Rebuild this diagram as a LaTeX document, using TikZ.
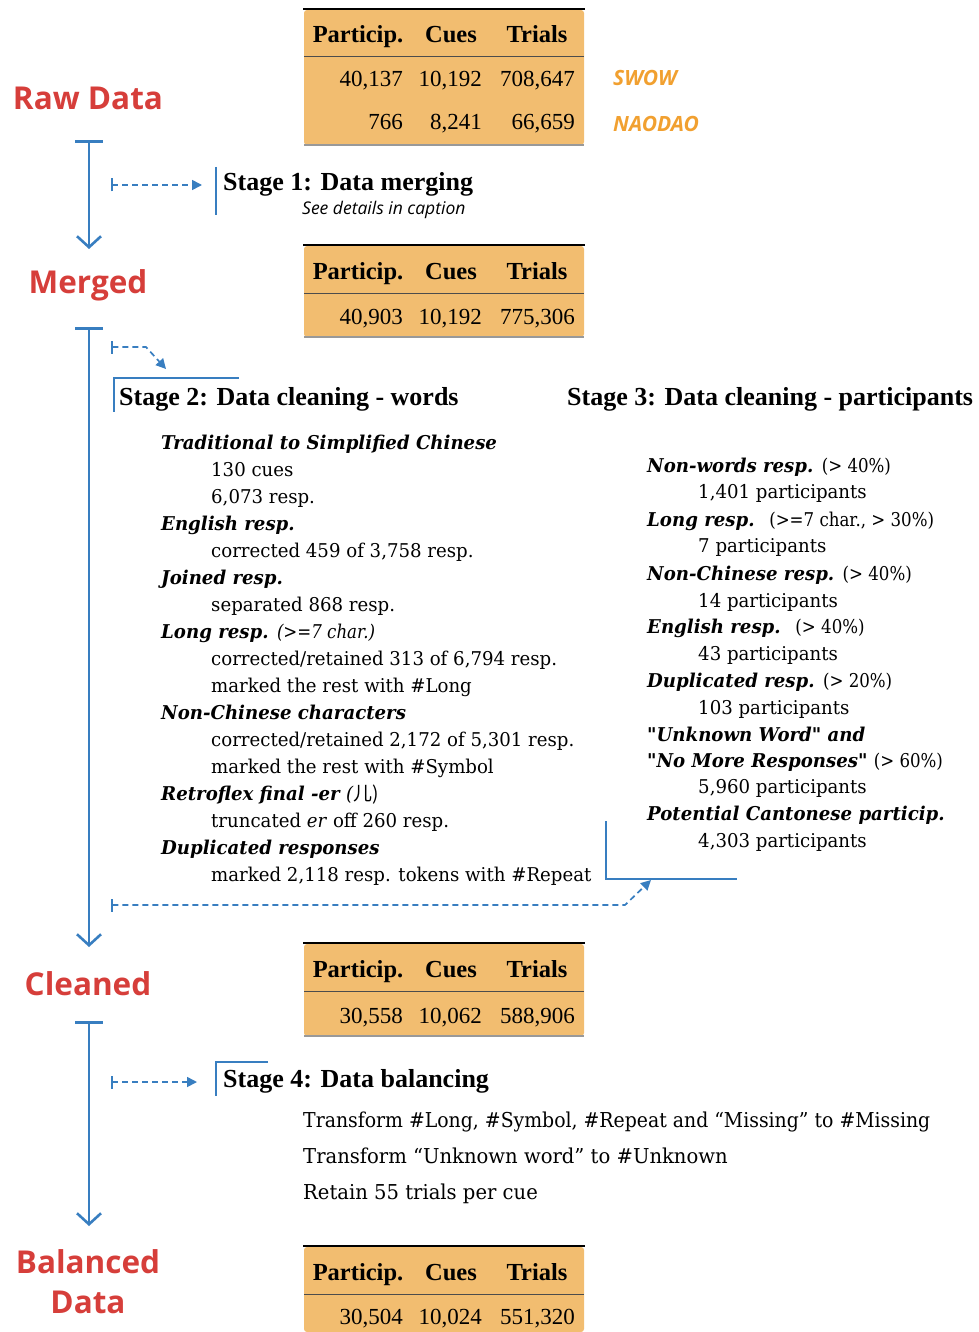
\documentclass[tikz,border=0pt]{standalone}
\usepackage{fontspec}
\setmainfont{DejaVu Serif}[FakeStretch=0.955]
\newfontfamily\tabfont{Liberation Serif}
\newfontfamily\labfont{Open Sans}
\newfontfamily\cjk{Noto Sans CJK SC}
\usetikzlibrary{arrows.meta}
\definecolor{redlab}{RGB}{214,62,58}
\definecolor{flowblue}{RGB}{56,126,192}
\definecolor{tabfill}{RGB}{242,189,112}
\definecolor{srcorange}{RGB}{241,160,48}
\newcommand\pnote[1]{{\mdseries\addfontfeature{FakeStretch=0.875}#1}}
\newcommand\sq{{\addfontfeature{Ligatures=TeXOff}"}}
\tikzset{
  txt/.style={inner sep=0pt, anchor=base west},
  body/.style={txt, font=\fontsize{19}{23}\selectfont},
  head/.style={txt, font=\fontsize{19}{23}\selectfont\bfseries\itshape},
  bal/.style={txt, font=\fontsize{20.5}{24}\selectfont},
  stagetitle/.style={txt, font=\tabfont\bfseries\fontsize{26}{30}\selectfont},
  th/.style={inner sep=0pt, anchor=base, font=\tabfont\bfseries\fontsize{24.5}{28}\selectfont},
  td/.style={inner sep=0pt, anchor=base east, font=\tabfont\fontsize{23}{27}\selectfont},
  lab/.style={inner sep=0pt, anchor=base, text=redlab, font=\labfont\bfseries\fontsize{31.5}{38}\selectfont},
  src/.style={txt, text=srcorange, font=\labfont\bfseries\itshape\fontsize{21}{25}\selectfont},
  flow/.style={draw=flowblue, line width=2.6pt, {Bar[width=28pt,line width=2.6pt]}-{Straight Barb[length=11pt,width=24pt,line width=2.6pt]}},
  dflow/.style={draw=flowblue, line width=1.7pt, dash pattern=on 6pt off 4pt, {Bar[width=13pt,line width=1.7pt]}-{Triangle[length=10pt,width=10pt]}},
  corner/.style={draw=flowblue, line width=2pt},
}
\newcommand\mktab[3]{%
  \fill[tabfill, rounded corners=3pt] (304,#2+1) rectangle (584,#3);
  \draw[line width=2.2pt] (303,#2) -- (585,#2);
  \draw[line width=1pt, black!70] (304,#2+48) -- (584,#2+48);
  \node[th] (#1h1) at (358,#2+34) {Particip.};
  \node[th] (#1h2) at (451,#2+34) {Cues};
  \node[th] (#1h3) at (537,#2+34) {Trials};
}
\begin{document}
\begin{tikzpicture}[x=1pt,y=-1pt]
\useasboundingbox (0,0) rectangle (978,1332);

% ---------- tables ----------
\mktab{ta}{9}{145}
\draw[line width=1.5pt, black!40] (304,145) -- (584,145);
\node[td] (ta11) at (403,87) {40,137};
\node[td] (ta12) at (482,87) {10,192};
\node[td] (ta13) at (575,87) {708,647};
\node[td] (ta21) at (403,130) {766};
\node[td] (ta22) at (482,130) {8,241};
\node[td] (ta23) at (575,130) {66,659};
\node[src] (swow) at (613,86) {SWOW};
\node[src] (naodao) at (613,132) {NAODAO};

\mktab{tb}{245}{337}
\draw[line width=1.5pt, black!40] (304,337) -- (584,337);
\node[td] (tb11) at (403,324) {40,903};
\node[td] (tb12) at (482,324) {10,192};
\node[td] (tb13) at (575,324) {775,306};

\mktab{tc}{943}{1036}
\draw[line width=1.5pt, black!40] (304,1036) -- (584,1036);
\node[td] (tc11) at (403,1023) {30,558};
\node[td] (tc12) at (482,1023) {10,062};
\node[td] (tc13) at (575,1023) {588,906};

\mktab{td}{1246}{1332}
\node[td] (td11) at (403,1324) {30,504};
\node[td] (td12) at (482,1324) {10,024};
\node[td] (td13) at (575,1324) {551,320};

% ---------- red labels ----------
\node[lab] (raw) at (88,110) {Raw Data};
\node[lab] (merged) at (88,293) {Merged};
\node[lab] (cleaned) at (88,995) {Cleaned};
\node[lab] (bal1) at (88,1273) {Balanced};
\node[lab] (bal2) at (88,1313) {Data};

% ---------- main flow ----------
\coordinate (f1s) at (89,140); \coordinate (f1e) at (89,249);
\coordinate (f2s) at (89,327); \coordinate (f2e) at (89,947);
\coordinate (f3s) at (89,1021); \coordinate (f3e) at (89,1226);
\draw[flow] (f1s) -- (f1e);
\draw[flow] (f2s) -- (f2e);
\draw[flow] (f3s) -- (f3e);

% ---------- stage 1 ----------
\coordinate (d1s) at (111,185); \coordinate (d1e) at (202,185);
\draw[dflow] (d1s) -- (d1e);
\coordinate (c1a) at (216,167); \coordinate (c1b) at (216,215);
\draw[corner] (c1a) -- (c1b);
\node[stagetitle] (st1) at (223,191) {Stage 1: Data merging};
\node[txt, font=\labfont\itshape\fontsize{17.5}{21}\selectfont] (st1sub) at (302,215) {See details in caption};

% ---------- stage 2 ----------
\coordinate (d2s) at (111,347); \coordinate (d2m) at (146,347); \coordinate (d2e) at (166,369);
\draw[dflow] (d2s) -- (d2m) -- (d2e);
\coordinate (c2a) at (239,378); \coordinate (c2b) at (114,378); \coordinate (c2c) at (114,412);
\draw[corner] (c2a) -- (c2b) -- (c2c);
\node[stagetitle] (st2) at (119,405) {Stage 2: Data cleaning - words};

\node[head] (w1) at (161,449) {Traditional to Simplified Chinese};
\node[body] (w2) at (211,476) {130 cues};
\node[body] (w3) at (211,503) {6,073 resp.};
\node[head] (w4) at (161,530) {English resp.};
\node[body] (w5) at (211,557) {corrected 459 of 3,758 resp.};
\node[head] (w6) at (161,584) {Joined resp.};
\node[body] (w7) at (211,611) {separated 868 resp.};
\node[head] (w8) at (161,638) {Long resp. \pnote{(>=7 char.)}};
\node[body] (w9) at (211,665) {corrected/retained 313 of 6,794 resp.};
\node[body] (w10) at (211,692) {marked the rest with \#Long};
\node[head] (w11) at (161,719) {Non-Chinese characters};
\node[body] (w12) at (211,746) {corrected/retained 2,172 of 5,301 resp.};
\node[body] (w13) at (211,773) {marked the rest with \#Symbol};
\node[head] (w14) at (161,800) {Retroflex final -er {\mdseries(\cjk 儿\/)}};
\node[body] (w15) at (211,827) {truncated \textit{er} off 260 resp.};
\node[head] (w16) at (161,854) {Duplicated responses};
\node[body] (w17) at (211,881) {marked 2,118 resp. tokens with \#Repeat};

% ---------- stage 3 ----------
\node[stagetitle] (st3) at (567,405) {Stage 3: Data cleaning - participants};
\node[head] (p1) at (647,472) {Non-words resp. \pnote{\upshape(> 40\%)}};
\node[body] (p2) at (698,498) {1,401 participants};
\node[head] (p3) at (647,526) {Long resp. \ \pnote{\upshape(>=7 char., > 30\%)}};
\node[body] (p4) at (698,552) {7 participants};
\node[head] (p5) at (647,580) {Non-Chinese resp. \pnote{\upshape(> 40\%)}};
\node[body] (p6) at (698,607) {14 participants};
\node[head] (p7) at (647,633) {English resp. \ \pnote{\upshape(> 40\%)}};
\node[body] (p8) at (698,660) {43 participants};
\node[head] (p9) at (647,687) {Duplicated resp. \pnote{\upshape(> 20\%)}};
\node[body] (p10) at (698,714) {103 participants};
\node[head] (p11) at (647,741) {\sq Unknown Word\sq{} and};
\node[head] (p12) at (647,767) {\sq No More Responses\sq{} \pnote{\upshape(> 60\%)}};
\node[body] (p13) at (698,793) {5,960 participants};
\node[head] (p14) at (647,820) {Potential Cantonese particip.};
\node[body] (p15) at (698,847) {4,303 participants};

\coordinate (c3a) at (606,821); \coordinate (c3b) at (606,879); \coordinate (c3c) at (737,879);
\draw[corner] (c3a) -- (c3b) -- (c3c);
\coordinate (d3s) at (111,905); \coordinate (d3m) at (625,905); \coordinate (d3e) at (651,880);
\draw[dflow] (d3s) -- (d3m) -- (d3e);

% ---------- stage 4 ----------
\coordinate (d4s) at (111,1082); \coordinate (d4e) at (197,1082);
\draw[dflow] (d4s) -- (d4e);
\coordinate (c4a) at (268,1062); \coordinate (c4b) at (216,1062); \coordinate (c4c) at (216,1096);
\draw[corner] (c4a) -- (c4b) -- (c4c);
\node[stagetitle] (st4) at (223,1087) {Stage 4: Data balancing};
\node[bal, font=\fontsize{20.5}{24}\selectfont\addfontfeature{FakeStretch=0.92}] (b1) at (303,1127) {Transform \#Long, \#Symbol, \#Repeat and “Missing” to \#Missing};
\node[bal] (b2) at (303,1163) {Transform “Unknown word” to \#Unknown};
\node[bal] (b3) at (303,1199) {Retain 55 trials per cue};
\end{tikzpicture}
\end{document}
